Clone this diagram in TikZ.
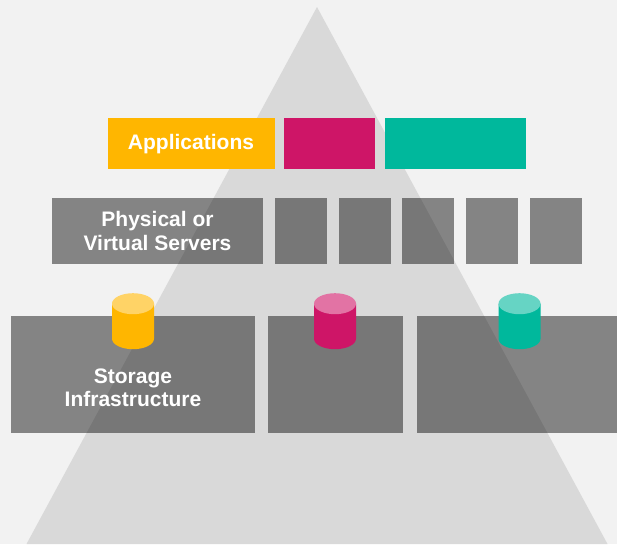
\documentclass[tikz,border=0pt]{standalone}
\usepackage{fontspec}
\setmainfont{Liberation Sans}
\definecolor{bgc}{HTML}{F2F2F2}
\definecolor{tri}{HTML}{D9D9D9}
\definecolor{amber}{HTML}{FFB600}
\definecolor{amberl}{HTML}{FFD366}
\definecolor{mag}{HTML}{CE1567}
\definecolor{magl}{HTML}{E273A4}
\definecolor{teal2}{HTML}{00B89C}
\definecolor{teall}{HTML}{66D4C4}
\tikzset{
 x=1pt,y=-1pt,
 lab/.style={text=white,font=\bfseries\fontsize{21}{23.5}\selectfont,align=center,inner sep=0pt},
 solidbox/.style={fill=#1,draw=none},
 greybox/.style={fill=black,fill opacity=.45,draw=none}
}
\newcommand{\rct}[6]{\path[#6] (#2,#3) rectangle (#4,#5) coordinate (#1);}
\newcommand{\cyl}[4]{%
 \fill[#3] (#1-21,#2) -- (#1-21,#2+35) arc[start angle=180,end angle=360,x radius=21,y radius=-10.5] -- (#1+21,#2) -- cycle;
 \fill[#4] (#1,#2) ellipse[x radius=21,y radius=10.5];}
\begin{document}
\begin{tikzpicture}
\path[fill=bgc] (0,0) rectangle (617,544);
\useasboundingbox (0,0) rectangle (617,544);
\fill[tri] (317,7) -- (607.5,544) -- (26.5,544) -- cycle;
\rct{a1}{108}{118}{275}{169}{solidbox=amber}
\rct{a2}{284}{118}{375}{169}{solidbox=mag}
\rct{a3}{385}{118}{526}{169}{solidbox=teal2}
\rct{s1}{52}{198}{263}{264}{greybox}
\rct{s2}{275}{198}{327}{264}{greybox}
\rct{s3}{339}{198}{391}{264}{greybox}
\rct{s4}{402}{198}{454}{264}{greybox}
\rct{s5}{466}{198}{518}{264}{greybox}
\rct{s6}{530}{198}{582}{264}{greybox}
\rct{d1}{11}{316}{255}{433}{greybox}
\rct{d2}{268}{316}{403}{433}{greybox}
\rct{d3}{417}{316}{617}{433}{greybox}
\cyl{133}{303.7}{amber}{amberl}
\cyl{335}{303.7}{mag}{magl}
\cyl{519.5}{303.7}{teal2}{teall}
\node[lab] (tapp) at (191,144) {Applications};
\node[lab] (tsrv) at (157.5,231) {Physical or\\Virtual Servers};
\node[lab] (tsto) at (133,388) {Storage\\Infrastructure};
\end{tikzpicture}
\end{document}
